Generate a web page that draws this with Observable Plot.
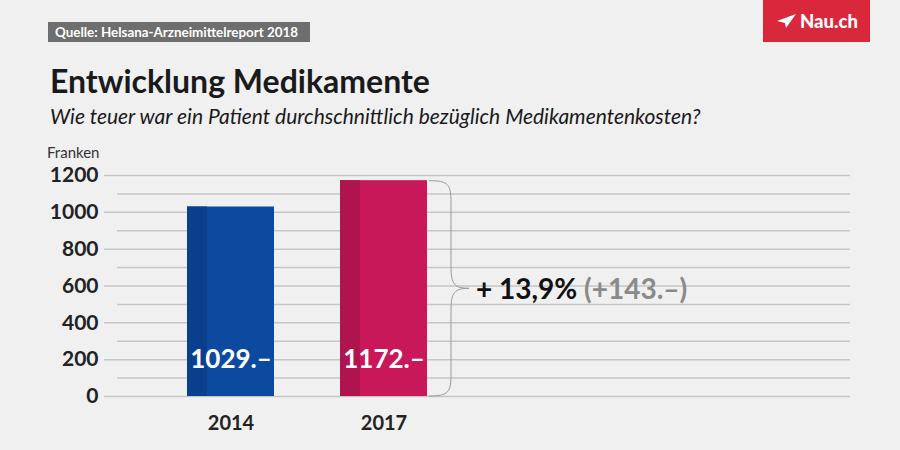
<!DOCTYPE html>
<html><head><meta charset="utf-8">
<script src="https://cdn.jsdelivr.net/npm/d3@7"></script>
<script src="https://cdn.jsdelivr.net/npm/@observablehq/plot@0.6"></script>
<style>
html,body{margin:0;padding:0;background:#f0f0f1;}
#wrap{position:relative;width:900px;height:450px;overflow:hidden;font-family:Lato,sans-serif;background:#f0f0f1;}
#src{position:absolute;left:48px;top:22px;width:262px;height:20px;background:#6e6e6e;color:#fff;font-weight:700;font-size:13.4px;line-height:20px;padding-left:7px;box-sizing:border-box;white-space:nowrap;}
#logo{position:absolute;left:763px;top:0;width:107px;height:42px;background:#d9283c;color:#fff;font-weight:900;font-size:18.5px;line-height:42px;box-sizing:border-box;padding-left:37px;}
#logo svg{position:absolute;left:14px;top:13px;}
#title{position:absolute;left:50px;top:61px;font-size:32px;font-weight:700;color:#1a1a1a;white-space:nowrap;}
#sub{position:absolute;left:50px;top:103px;font-size:21px;font-style:italic;color:#1a1a1a;white-space:nowrap;}
#unit{position:absolute;left:47px;top:143px;font-size:15px;color:#333;}
#chart{position:absolute;left:0;top:0;}
</style></head>
<body><div id="wrap">
<div id="chart"></div>
<div id="src">Quelle: Helsana-Arzneimittelreport 2018</div>
<div id="logo"><svg width="19" height="16" viewBox="0 0 19 16"><path d="M0 8 L19 1 L9 15 L8 10 Z" fill="#fff"/></svg>Nau.ch</div>
<div id="title">Entwicklung Medikamente</div>
<div id="sub">Wie teuer war ein Patient durchschnittlich bezüglich Medikamentenkosten?</div>
<div id="unit">Franken</div>
</div>
<script>
const years = ["2014", "2017"];
const costs = [1029, 1172];
const barColors = ["#0c4aa0", "#c8185a"];
const stripeColors = ["#0a3f8e", "#b0144f"];
const majorTicks = [0, 200, 400, 600, 800, 1000, 1200];
const minorTicks = [100, 300, 500, 700, 900, 1100];

const data = years.map((y, i) => ({year: y, cost: costs[i], color: barColors[i], stripe: stripeColors[i], label: costs[i] + ".–"}));
const diff = costs[1] - costs[0];
const pct = (diff / costs[0] * 100).toFixed(1).replace(".", ",");

function brace(index, scales, values, dims) {
  const x0 = scales.x(years[1]) + scales.x.bandwidth() + 2;
  const yt = scales.y(costs[1]) + 0.5, yb = scales.y(0);
  const ym = (yt + yb) / 2;
  const w = 22, tip = 18, r = 22;
  const xv = x0 + w;
  const d = `M${x0},${yt} C${x0+w*0.9},${yt} ${xv},${yt+4} ${xv},${yt+r} L${xv},${ym-r}` +
            ` C${xv},${ym-4} ${xv+tip*0.2},${ym} ${xv+tip},${ym}` +
            ` C${xv+tip*0.2},${ym} ${xv},${ym+4} ${xv},${ym+r} L${xv},${yb-r} C${xv},${yb-4} ${x0+w*0.9},${yb} ${x0},${yb}`;
  const g = d3.create("svg:g");
  g.append("path").attr("d", d).attr("fill", "none").attr("stroke", "#9a9a9a").attr("stroke-width", 1);
  const t = g.append("text").attr("x", xv + tip + 7).attr("y", ym + 11).attr("text-anchor", "start")
    .attr("font-family", "Lato, sans-serif").attr("font-weight", 700).attr("font-size", 28);
  t.append("tspan").attr("fill", "#111").text(`+ ${pct}% `);
  t.append("tspan").attr("fill", "#8a8a8a").text(`(+${diff}.–)`);
  return g.node();
}

const chart = Plot.plot({
  width: 900, height: 450,
  marginTop: 175, marginBottom: 54, marginLeft: 104, marginRight: 50,
  style: {background: "transparent", fontFamily: "Lato, sans-serif"},
  x: {domain: years, range: [120, 494], padding: 0.429, axis: null},
  y: {domain: [0, 1200]},
  marks: [
    Plot.ruleY(majorTicks, {stroke: "#c6c6c6", strokeWidth: 1.5}),
    Plot.ruleY(minorTicks, {stroke: "#c6c6c6", strokeWidth: 1.5, insetLeft: 13}),
    Plot.axisY({ticks: majorTicks, tickSize: 0, tickPadding: 6, fontSize: 21, fontWeight: 700, color: "#222", label: null, tickFormat: d => String(d)}),
    Plot.barY(data, {x: "year", y: "cost", fill: "color"}),
    Plot.barY(data, {x: "year", y: "cost", fill: "stripe", insetRight: 67}),
    Plot.text(data, {x: "year", y: 0, text: "label", dy: -37, fill: "#fff", fontSize: 26, fontWeight: 700}),
    Plot.text(data, {x: "year", y: 0, text: "year", dy: 27, fill: "#222", fontSize: 20, fontWeight: 700}),
    brace
  ]
});
document.getElementById("chart").appendChild(chart);
</script>
</body></html>
